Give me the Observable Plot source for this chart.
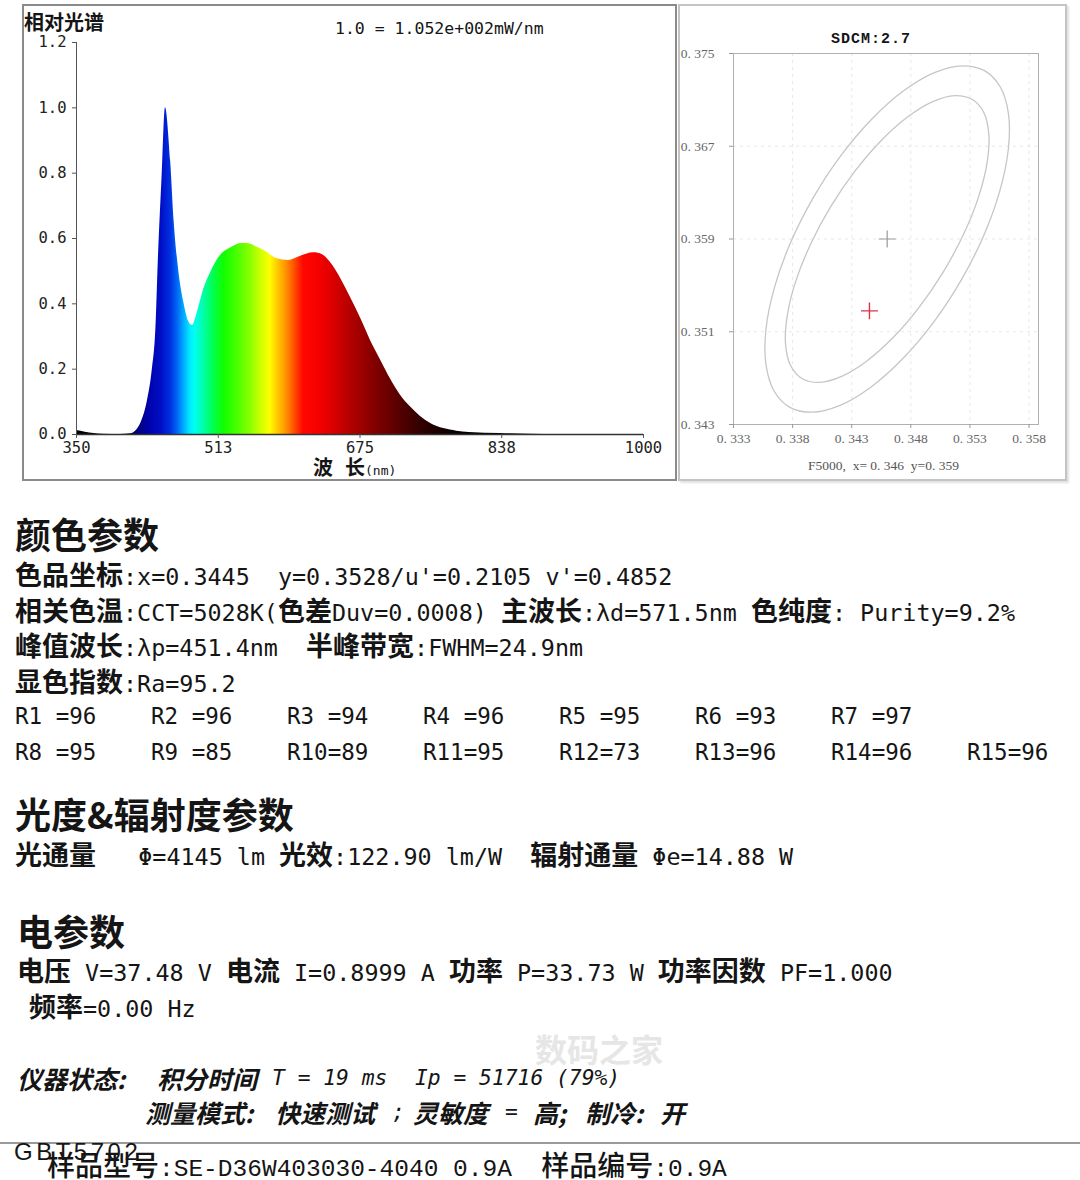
<!DOCTYPE html>
<html><head><meta charset="utf-8">
<script src="https://cdn.jsdelivr.net/npm/d3@7"></script>
<script src="https://cdn.jsdelivr.net/npm/@observablehq/plot@0.6"></script>
<style>
html,body{margin:0;padding:0;background:#fff;}
#page{position:relative;width:1080px;height:1180px;overflow:hidden;background:#fff;color:#151515;}
.abs{position:absolute;white-space:pre;height:40px;line-height:40px;}
.c{font-family:"Noto Sans CJK SC";font-weight:700;font-size:27px;}
.m{font-family:"DejaVu Sans Mono";font-size:23.4px;}
.mr{font-family:"DejaVu Sans Mono";font-size:22.5px;}
.h{font-family:"Noto Sans CJK SC";font-weight:700;font-size:36px;}
.ci{font-family:"Noto Sans CJK SC";font-weight:700;font-size:25px;font-style:italic;}
.mi{font-family:"DejaVu Sans Mono";font-size:21.3px;font-style:italic;}
.bc{font-family:"Noto Sans CJK SC";font-weight:500;font-size:28px;}
.bm{font-family:"Liberation Mono";font-size:24.5px;}
.st{font-family:"Noto Sans CJK SC";font-weight:700;font-size:20px;}
.sm{font-family:"DejaVu Sans Mono";font-size:16.5px;}
.sx{font-family:"DejaVu Sans Mono";font-size:13px;}
.sd{font-family:"Liberation Mono";font-weight:700;font-size:15px;letter-spacing:1px;}
.sc{font-family:"Liberation Serif";font-size:13.5px;color:#555;}
.gb{font-family:"Liberation Sans";font-size:24px;letter-spacing:3.5px;}
.wm{font-family:"Noto Sans CJK SC";font-size:32px;color:#e6e6e6;font-weight:700;}
</style></head><body><div id="page"></div>
<script>
// ---------- spectrum data (relative, 1.0 = 1.052e+002 mW/nm) ----------
const specWl  = [350,360,370,380,400,412,420,425,431,437,441,444,448,452,458,462,467,473,479,483,488,496,504,515,527,540,548,557,565,580,593,607,622,632,641,653,664,676,687,699,710,721,733,744,756,771,786,800,836,870,900,1000];
const specVal = [0.012,0.007,0.003,0.001,0.000,0.002,0.017,0.043,0.099,0.201,0.324,0.548,0.783,1.000,0.834,0.650,0.507,0.405,0.344,0.334,0.369,0.446,0.497,0.548,0.572,0.585,0.584,0.573,0.563,0.538,0.533,0.546,0.556,0.550,0.527,0.477,0.420,0.354,0.288,0.226,0.170,0.122,0.084,0.056,0.034,0.018,0.010,0.006,0.003,0.001,0.000,0.000];
const specYTicks = [0, 0.2, 0.4, 0.6, 0.8, 1.0, 1.2];
const specXTicks = [350, 512.5, 675, 837.5, 1000];
const specXTickLabels = ["350", "513", "675", "838", "1000"];

// ---------- SDCM data (CIE x, y) ----------
const sdcmXTicks = [0.333, 0.338, 0.343, 0.348, 0.353, 0.358];
const sdcmYTicks = [0.343, 0.351, 0.359, 0.367, 0.375];
const sdcmCenter = [{x: 0.346, y: 0.359}];
const sdcmMeasured = [{x: 0.3445, y: 0.3528}];
const outerEllipse = [[0.35423,0.37352],[0.35233,0.37394],[0.34999,0.37335],[0.34739,0.37178],[0.34469,0.36933],[0.34208,0.36619],[0.33974,0.36255],[0.33782,0.35867],[0.33646,0.35481],[0.33575,0.35124],[0.33574,0.3482],[0.33643,0.34589],[0.33777,0.34448],[0.33967,0.34406],[0.34201,0.34465],[0.34461,0.34622],[0.34731,0.34867],[0.34992,0.35181],[0.35226,0.35545],[0.35418,0.35933],[0.35554,0.36319],[0.35625,0.36676],[0.35626,0.3698],[0.35557,0.37211]];
const innerEllipse = [[0.35318,0.37105],[0.35171,0.37137],[0.34985,0.37085],[0.34772,0.36952],[0.34548,0.36748],[0.34327,0.36485],[0.34125,0.36183],[0.33955,0.35862],[0.33829,0.35543],[0.33756,0.35248],[0.3374,0.34998],[0.33783,0.34809],[0.33882,0.34695],[0.34029,0.34663],[0.34215,0.34715],[0.34428,0.34848],[0.34652,0.35052],[0.34873,0.35315],[0.35075,0.35617],[0.35245,0.35938],[0.35371,0.36257],[0.35444,0.36552],[0.3546,0.36802],[0.35417,0.36991]];

// ---------- colour rendering indices ----------
const rNames  = ["R1","R2","R3","R4","R5","R6","R7","R8","R9","R10","R11","R12","R13","R14","R15"];
const rValues = [96,96,94,96,95,93,97,95,85,89,95,73,96,96,96];

// ---------- style: wavelength colour stops for the spectrum fill ----------
const specStops = [[350,"#000000"],[405,"#040014"],[418,"#000070"],[432,"#0000a8"],[448,"#0010c8"],[458,"#0030e0"],[466,"#0068f4"],[473,"#00a8ff"],[480,"#00e8ff"],[486,"#00fff0"],[496,"#00ffa8"],[507,"#00ff50"],[519,"#10ff00"],[534,"#48ff00"],[549,"#88ff00"],[562,"#d0ff00"],[572,"#ffff00"],[581,"#ffc800"],[591,"#ff9000"],[601,"#ff4800"],[610,"#ff0800"],[626,"#f80000"],[641,"#e00000"],[656,"#c40000"],[675,"#a00000"],[694,"#800000"],[717,"#5c0000"],[740,"#380000"],[763,"#1c0000"],[785,"#080000"],[820,"#000000"],[1000,"#000000"]];

const page = document.getElementById("page");
function box(l,t,w,h,css){const d=document.createElement("div");d.style.cssText=`position:absolute;left:${l}px;top:${t}px;width:${w}px;height:${h}px;box-sizing:border-box;`+css;page.appendChild(d);return d;}
function put(x, cy, parts){
  const d=document.createElement("div"); d.className="abs";
  d.style.left=x+"px"; d.style.top=(cy-20)+"px";
  for(const [t,cls] of parts){const s=document.createElement("span");s.className=cls;s.textContent=t;d.appendChild(s);}
  page.appendChild(d); return d;
}

// ---------- spectrum panel ----------
box(22,4,655,477,"border:2px solid #8a8a8a;");
const spec = specWl.map((w,i)=>({wl:w, v:specVal[i]}));
const specPlot = Plot.plot({
  width: 651, height: 473,
  marginLeft: 52, marginRight: 32, marginTop: 36, marginBottom: 45,
  x: {domain: [350, 1000]},
  y: {domain: [0, 1.2]},
  style: {fontFamily: "DejaVu Sans Mono", fontSize: "15.5px", color: "#222", background: "transparent"},
  marks: [
    Plot.areaY(spec, {x: "wl", y: "v", curve: "monotone-x", fill: "url(#specgrad)"}),
    Plot.ruleX([350], {stroke: "#555"}),
    Plot.ruleY([0], {stroke: "#333", strokeWidth: 1.5}),
    Plot.axisY({ticks: specYTicks, tickFormat: d => d.toFixed(1), tickSize: 4, tickPadding: 6, label: null, stroke: "#555"}),
    Plot.axisX({ticks: specXTicks, tickFormat: d => specXTickLabels[specXTicks.indexOf(d)], tickSize: 4, tickPadding: 3, label: null, stroke: "#555"})
  ]
});
{
  const xs = specPlot.scale("x");
  const ns = "http://www.w3.org/2000/svg";
  const defs = document.createElementNS(ns, "defs");
  const g = document.createElementNS(ns, "linearGradient");
  g.setAttribute("id", "specgrad");
  g.setAttribute("gradientUnits", "userSpaceOnUse");
  g.setAttribute("x1", xs.apply(350)); g.setAttribute("x2", xs.apply(1000));
  g.setAttribute("y1", 0); g.setAttribute("y2", 0);
  for (const [w, c] of specStops) {
    const s = document.createElementNS(ns, "stop");
    s.setAttribute("offset", (w - 350) / 650);
    s.setAttribute("stop-color", c);
    g.appendChild(s);
  }
  defs.appendChild(g);
  specPlot.insertBefore(defs, specPlot.firstChild);
}
specPlot.style.position = "absolute"; specPlot.style.left = "24px"; specPlot.style.top = "6px";
page.appendChild(specPlot);
put(24, 22, [["相对光谱","st"]]);
put(335, 29, [["1.0 = 1.052e+002mW/nm","sm"]]);
put(313, 467, [["波","st"]]);
put(345, 467, [["长","st"],["(nm)","sx"]]);

// ---------- SDCM panel ----------
box(678,4,389,477,"border:2px solid #c4c4c4;box-shadow:2px 2px 2px #e0e0e0;");
const fmt3 = d => "0. " + d.toFixed(3).slice(2);
const sdcmPlot = Plot.plot({
  width: 385, height: 473,
  marginLeft: 53, marginRight: 27, marginTop: 47, marginBottom: 55,
  x: {domain: [0.333, 0.3588]},
  y: {domain: [0.343, 0.375]},
  style: {fontFamily: "Liberation Serif", fontSize: "13.5px", color: "#666", background: "transparent"},
  marks: [
    Plot.gridX(sdcmXTicks, {stroke: "#d8d8d8", strokeOpacity: 0.6, strokeDasharray: "3,4"}),
    Plot.gridY(sdcmYTicks, {stroke: "#d8d8d8", strokeOpacity: 0.6, strokeDasharray: "3,4"}),
    Plot.frame({stroke: "#b0b0b0"}),
    Plot.axisX({ticks: sdcmXTicks, tickFormat: fmt3, tickSize: 4, tickPadding: 5, label: null, stroke: "#999"}),
    Plot.axisY({ticks: sdcmYTicks, tickFormat: fmt3, tickSize: 4, tickPadding: 15, label: null, stroke: "#999"}),
    Plot.line(outerEllipse, {x: d => d[0], y: d => d[1], curve: "catmull-rom-closed", stroke: "#c6c6c6", strokeWidth: 1.3}),
    Plot.line(innerEllipse, {x: d => d[0], y: d => d[1], curve: "catmull-rom-closed", stroke: "#c6c6c6", strokeWidth: 1.3}),
    Plot.dot(sdcmCenter, {x: "x", y: "y", symbol: "plus", r: 5.5, stroke: "#9a9a9a", strokeWidth: 1.2}),
    Plot.dot(sdcmMeasured, {x: "x", y: "y", symbol: "plus", r: 5.5, stroke: "#e0304a", strokeWidth: 1.4})
  ]
});
sdcmPlot.style.position = "absolute"; sdcmPlot.style.left = "680px"; sdcmPlot.style.top = "6px";
page.appendChild(sdcmPlot);
put(831, 38, [["SDCM:2.7","sd"]]);
put(808, 465, [["F5000,  x= 0. 346  y=0. 359","sc"]]);

// ---------- report text ----------
put(15, 533, [["颜色参数","h"]]);
put(15, 574, [["色品坐标","c"],[":x=0.3445  y=0.3528/u'=0.2105 v'=0.4852","m"]]);
put(15, 610, [["相关色温","c"],[":CCT=5028K(","m"],["色差","c"],["Duv=0.0008) ","m"],["主波长","c"],[":λd=571.5nm ","m"],["色纯度","c"],[": Purity=9.2%","m"]]);
put(15, 645, [["峰值波长","c"],[":λp=451.4nm  ","m"],["半峰带宽","c"],[":FWHM=24.9nm","m"]]);
put(15, 681, [["显色指数","c"],[":Ra=95.2","m"]]);
rNames.forEach((n, i) => {
  const row = i < 7 ? 0 : 1, col = i < 7 ? i : i - 7;
  const label = (n + "   ").slice(0, 3) + "=" + rValues[i];
  put(15 + col * 136, 716 + row * 36, [[label, "mr"]]);
});
put(15, 813, [["光度&辐射度参数","h"]]);
put(15, 854, [["光通量","c"],["   Φ=4145 lm ","m"],["光效","c"],[":122.90 lm/W  ","m"],["辐射通量","c"],[" Φe=14.88 W","m"]]);
put(17, 930, [["电参数","h"]]);
put(17, 970, [["电压","c"],[" V=37.48 V ","m"],["电流","c"],[" I=0.8999 A ","m"],["功率","c"],[" P=33.73 W ","m"],["功率因数","c"],[" PF=1.000","m"]]);
put(29, 1006, [["频率","c"],["=0.00 Hz","m"]]);

put(535, 1048, [["数码之家","wm"]]);

for (const [x, t, cls] of [[17,"仪器状态:","ci"],[157,"积分时间","ci"],[272,"T = 19 ms","mi"],[415,"Ip = 51716 (79%)","mi"]]) put(x, 1078, [[t, cls]]);
for (const [x, t, cls] of [[145,"测量模式:","ci"],[275,"快速测试","ci"],[392,";","mi"],[413,"灵敏度","ci"],[505,"=","mi"],[533,"高;","ci"],[585,"制冷:","ci"],[660,"开","ci"]]) put(x, 1112, [[t, cls]]);

box(0,1142,1080,2,"background:#9a9a9a;");
put(47, 1164, [["样品型号","bc"],[":SE-D36W403030-4040 0.9A  ","bm"],["样品编号","bc"],[":0.9A","bm"]]);
put(14, 1152, [["GBT5702","gb"]]);
</script></body></html>
